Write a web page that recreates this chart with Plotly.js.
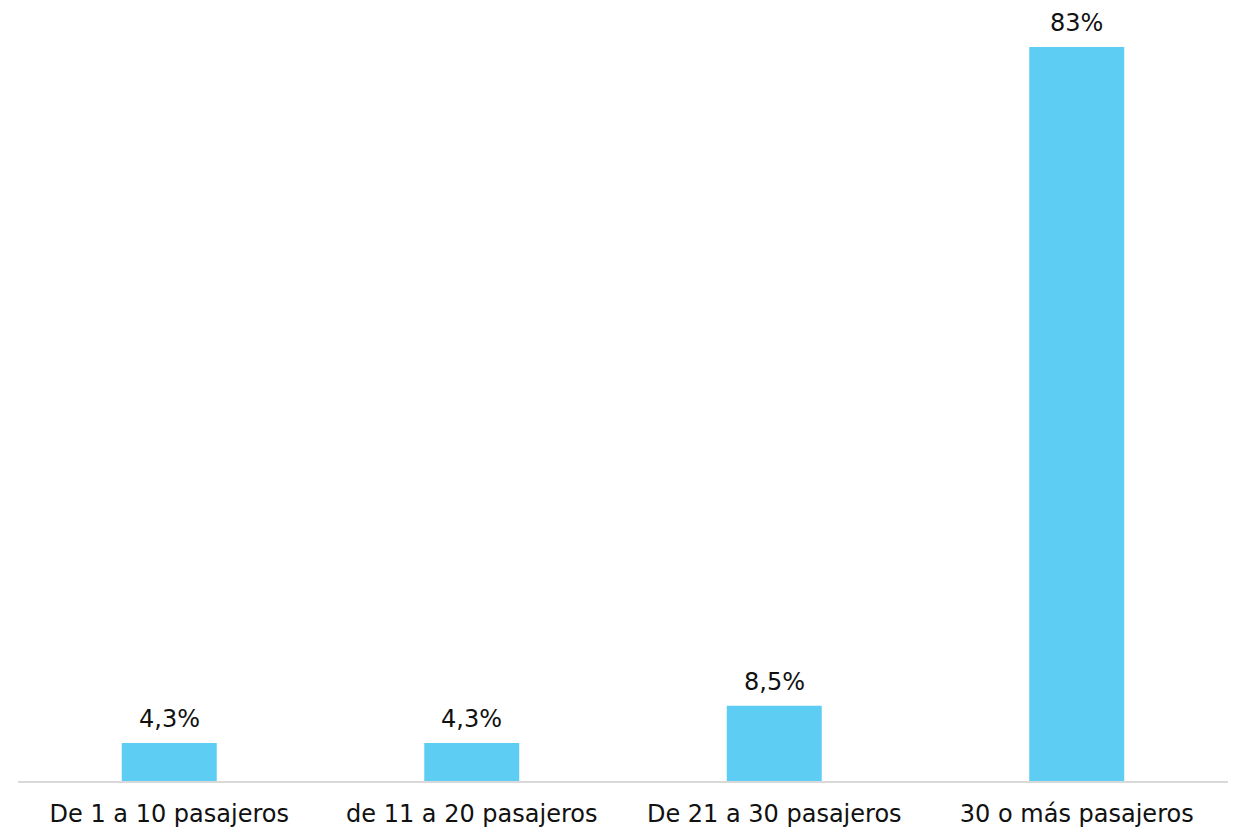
<!DOCTYPE html>
<html>
<head>
<meta charset="utf-8">
<script src="https://cdn.plot.ly/plotly-3.0.1.min.js"></script>
<style>html,body{margin:0;padding:0;background:#fff;}#chart{width:1235px;height:832px;}</style>
</head>
<body>
<div id="chart"></div>
<script>
const categories = ["De 1 a 10 pasajeros", "de 11 a 20 pasajeros", "De 21 a 30 pasajeros", "30 o más pasajeros"];
const values = [4.3, 4.3, 8.5, 83];
const labels = values.map(v => String(v).replace(".", ",") + "%");

const trace = {
  type: "bar",
  x: categories,
  y: values,
  marker: {color: "#5ECDF3"},
  hoverinfo: "none"
};

const annotations = categories.map((c, i) => ({
  x: c,
  y: values[i],
  xref: "x",
  yref: "y",
  text: labels[i],
  showarrow: false,
  yanchor: "bottom",
  yshift: 8,
  font: {family: "DejaVu Sans", size: 24, color: "#111"}
}));

const layout = {
  width: 1235,
  height: 832,
  margin: {l: 18, r: 7, t: 47, b: 51},
  paper_bgcolor: "#fff",
  plot_bgcolor: "#fff",
  bargap: 0.686,
  showlegend: false,
  annotations: annotations,
  xaxis: {
    showline: true,
    linecolor: "#d9d9d9",
    linewidth: 2,
    ticks: "",
    tickfont: {family: "DejaVu Sans", size: 24, color: "#111"},
    ticklabelstandoff: 10,
    showgrid: false,
    zeroline: false
  },
  yaxis: {
    range: [0, 83],
    visible: false,
    showgrid: false,
    zeroline: false
  }
};

Plotly.newPlot("chart", [trace], layout, {staticPlot: true, displayModeBar: false});
</script>
</body>
</html>
